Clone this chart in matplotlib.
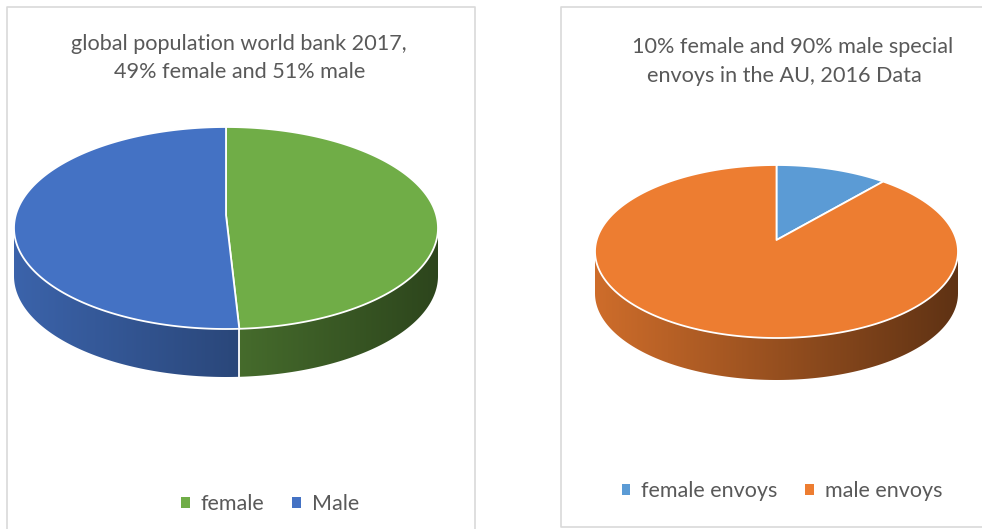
import numpy as np
import matplotlib
matplotlib.use("Agg")
import matplotlib.pyplot as plt
from matplotlib.patches import Polygon, Patch
from matplotlib.colors import to_rgb

plt.rcParams['font.family'] = ['Lato', 'DejaVu Sans']

# ---- data ----
left_title = ["global population world bank 2017,", "49% female and 51% male"]
left_labels = ["female", "Male"]
left_values = [49, 51]
left_colors = ["#70AD47", "#4472C4"]

right_title = ["10% female and 90% male special", "envoys in the AU, 2016 Data"]
right_labels = ["female envoys", "male envoys"]
right_values = [10, 90]
right_colors = ["#5B9BD5", "#ED7D31"]

TXT = "#595959"
W, H = 982, 529
fig = plt.figure(figsize=(W / 100, H / 100), dpi=100)
ax = fig.add_axes([0, 0, 1, 1])
ax.axis('off')


def pt(cx, cy, rx, ry, th):
    t = np.radians(th)
    return cx + rx * np.sin(t), cy - ry * np.cos(t)


def pie3d(values, colors, cx, cy, rx, ry, depth, dv):
    total = float(sum(values))
    bounds = np.concatenate([[0], np.cumsum(values) / total * 360.0])
    # sides with horizontal shading gradient
    for i, col in enumerate(colors):
        a0, a1 = bounds[i], bounds[i + 1]
        s0, s1 = max(a0, 90), min(a1, 270)
        if s0 < s1:
            th = np.linspace(s0, s1, 120)
            x, y = pt(cx, cy, rx, ry, th)
            poly = np.column_stack([np.concatenate([x, x[::-1]]),
                                    np.concatenate([y, (y + depth)[::-1]])])
            patch = Polygon(poly, closed=True, facecolor='none', edgecolor='none')
            ax.add_patch(patch)
            t = np.linspace(0, 1, 400)
            f = 0.87 - 0.47 * t
            base = np.array(to_rgb(col))
            img = (base[None, :] * f[:, None])[None, :, :]
            im = ax.imshow(img, extent=(cx - rx, cx + rx, cy + ry + depth + 2, cy - 2),
                           aspect='auto', interpolation='bilinear', zorder=1)
            im.set_clip_path(patch)
    # white vertical separators on the front side
    for b in bounds:
        bb = b % 360
        if 90 < bb < 270:
            x, y = pt(cx, cy, rx, ry, bb)
            ax.plot([x, x], [y, y + depth], color='white', lw=1.3, zorder=2)
    # top faces
    for i, col in enumerate(colors):
        a0, a1 = bounds[i], bounds[i + 1]
        th = np.linspace(a0, a1, 200)
        x, y = pt(cx, cy, rx, ry, th)
        poly = np.column_stack([np.concatenate([[cx], x]),
                                np.concatenate([[cy - dv], y])])
        ax.add_patch(Polygon(poly, closed=True, facecolor=col, edgecolor='white',
                             lw=1.3, joinstyle='round', zorder=3))


pie3d(left_values, left_colors, 226, 228, 212, 101, 48, 13)
pie3d(right_values, right_colors, 776.5, 251.5, 181.5, 86.5, 42, 11.5)

# frames
border = "#D9D9D9"
ax.plot([7, 7, 475, 475], [540, 7, 7, 540], color=border, lw=1.2, zorder=0)
ax.plot([1000, 561, 561, 1000], [7, 7, 527, 527], color=border, lw=1.2, zorder=0)

# titles
fs_t = 15.6
ax.text(239, 44, left_title[0], ha='center', va='center', color=TXT, fontsize=fs_t)
ax.text(240, 72, left_title[1], ha='center', va='center', color=TXT, fontsize=fs_t)
ax.text(793, 47, right_title[0], ha='center', va='center', color=TXT, fontsize=fs_t)
ax.text(784, 76, right_title[1], ha='center', va='center', color=TXT, fontsize=fs_t)

ax.set_xlim(0, W)
ax.set_ylim(H, 0)

# legends
fs_l = 15.5
h1 = [Patch(facecolor=c, edgecolor='none') for c in left_colors]
fig.legend(h1, left_labels, loc='center', bbox_to_anchor=(270 / W, 1 - 504 / H), ncol=2,
           frameon=False, fontsize=fs_l, labelcolor=TXT, handlelength=0.4,
           handleheight=0.4, handletextpad=0.5, columnspacing=1.3)
h2 = [Patch(facecolor=c, edgecolor='none') for c in right_colors]
fig.legend(h2, right_labels, loc='center', bbox_to_anchor=(782 / W, 1 - 491 / H), ncol=2,
           frameon=False, fontsize=fs_l, labelcolor=TXT, handlelength=0.4,
           handleheight=0.4, handletextpad=0.5, columnspacing=1.3)

fig.savefig("out.png", dpi=100, facecolor='white')
